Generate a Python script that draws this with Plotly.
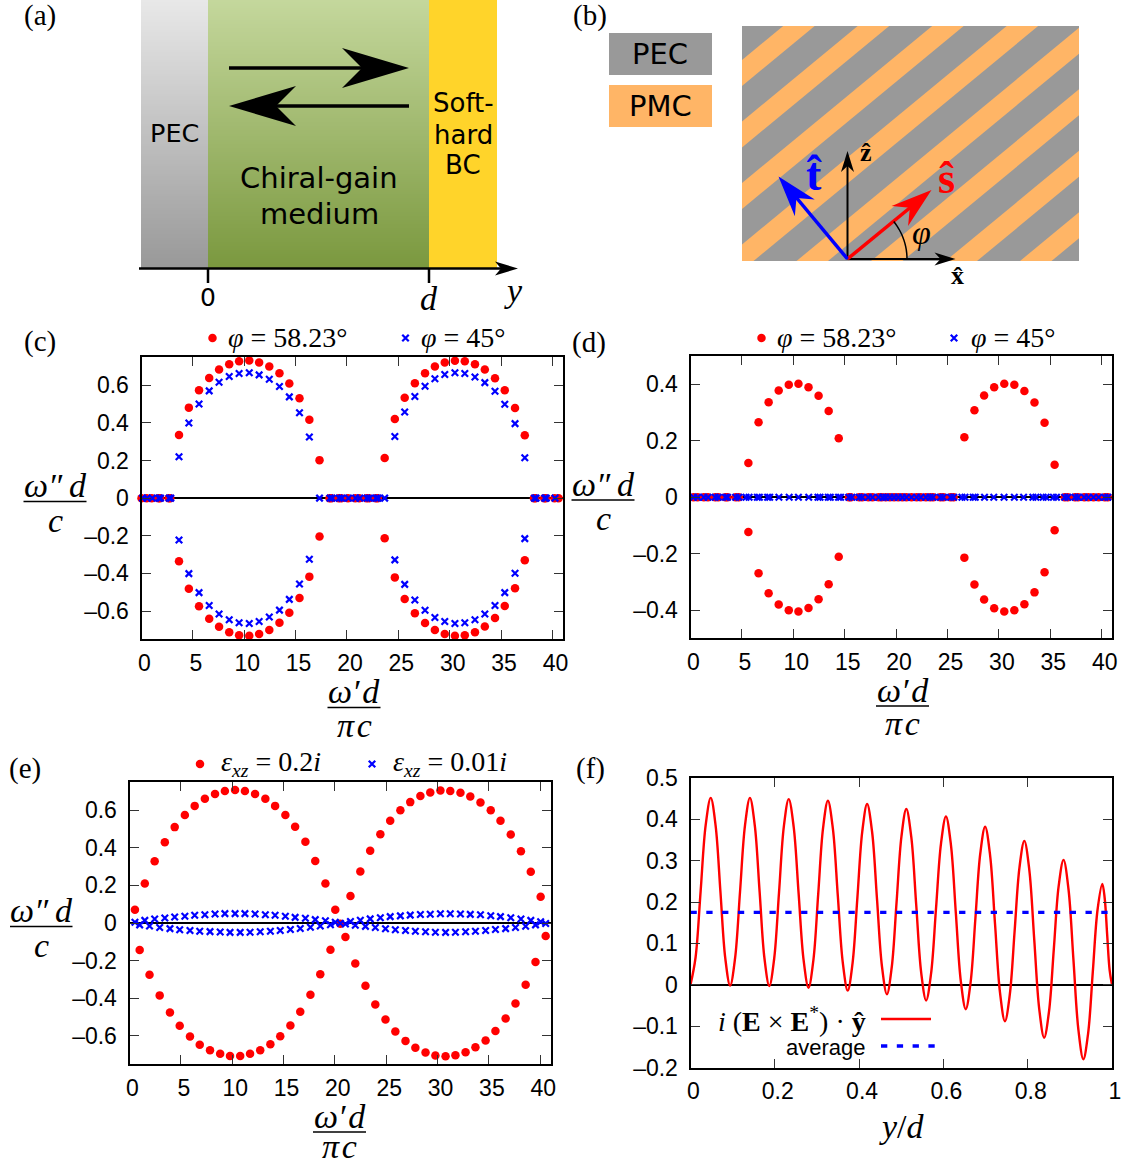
import math
import plotly.graph_objects as go

# ---------- data ----------
c_x = [3.65,4.61,5.60,6.59,7.55,8.54,9.50,10.49,11.45,12.44,13.43,14.39,15.38,16.34,17.33,
       23.67,24.66,25.62,26.61,27.60,28.56,29.52,30.51,31.47,32.46,33.42,34.41,35.36,36.36,37.31]
c_red_up = [.335,.481,.573,.639,.683,.712,.728,.731,.721,.699,.664,.609,.531,.417,.202,
            .213,.421,.534,.611,.664,.699,.721,.730,.728,.712,.683,.637,.573,.479,.334]
c_red_dn = [-.335,-.481,-.575,-.641,-.683,-.712,-.728,-.731,-.722,-.700,-.662,-.609,-.531,-.417,-.204,
            -.213,-.421,-.536,-.611,-.664,-.700,-.722,-.731,-.728,-.712,-.682,-.637,-.573,-.479,-.330]
c_blue_x = [3.65,4.61,5.60,6.59,7.55,8.54,9.50,10.49,11.45,12.44,13.43,14.39,15.38,16.34,
            24.66,25.62,26.61,27.60,28.56,29.52,30.51,31.47,32.46,33.42,34.41,35.36,36.36,37.31]
c_blue_up = [.220,.399,.500,.570,.616,.646,.662,.666,.655,.632,.593,.538,.454,.325,
             .328,.458,.540,.595,.634,.657,.666,.662,.644,.614,.568,.499,.396,.215]
c_blue_dn = [-.222,-.401,-.502,-.570,-.616,-.646,-.662,-.666,-.655,-.632,-.595,-.538,-.456,-.325,
             -.328,-.458,-.541,-.596,-.634,-.655,-.666,-.662,-.646,-.616,-.570,-.502,-.399,-.215]
c_red_zero = [0.0,0.5,1.0,1.65,1.8,2.65,2.8,18.3,18.5,19.2,19.45,20.1,20.8,21.2,21.9,22.15,22.8,23.0,
              38.2,38.35,39.2,39.35,40.2,40.6]
c_blue_zero = [0.1,0.55,1.05,1.7,1.85,2.7,2.85,17.33,18.35,18.55,19.25,19.5,20.15,20.85,21.25,21.95,22.2,
               22.85,23.05,23.67,38.25,38.4,39.25,39.4,40.25]

d_x = [5.63,6.62,7.60,8.58,9.56,10.50,11.48,12.46,13.44,14.42,
       26.64,27.62,28.56,29.54,30.52,31.50,32.48,33.46,34.44,35.42]
d_red_up = [.121,.265,.336,.378,.398,.402,.389,.359,.305,.209,
            .212,.308,.360,.389,.402,.398,.376,.335,.264,.115]
d_red_dn = [-.123,-.269,-.340,-.380,-.400,-.405,-.392,-.361,-.308,-.211,
            -.214,-.309,-.362,-.393,-.405,-.400,-.379,-.337,-.266,-.117]
d_red_zero = [0.3,0.7,1.3,1.7,2.4,2.7,3.4,3.6,4.4,4.7,15.4,15.6,16.4,16.7,17.3,17.7,18.3,18.6,19.0,19.4,
              19.8,20.2,20.6,21.0,21.5,22.0,22.4,22.9,23.3,23.6,24.3,24.6,25.3,25.6,
              36.4,36.7,37.4,37.7,38.3,38.7,39.2,39.7,40.3,40.6]
d_blue_zero = [0.3,0.7,1.3,1.7,2.4,2.7,3.4,3.6,4.4,4.7,5.4,5.7,6.5,6.7,7.5,7.7,8.6,9.6,10.5,11.5,12.4,12.6,
               13.4,13.6,14.4,14.6,15.4,15.7,16.4,16.7,17.3,17.7,18.3,18.7,19.0,19.4,19.8,20.2,20.6,21.0,
               21.5,22.0,22.4,22.9,23.3,23.6,24.3,24.6,25.3,25.6,26.4,26.7,27.5,27.7,28.6,29.5,30.5,31.5,
               32.4,33.3,33.6,34.3,34.6,35.3,35.6,36.4,36.7,37.4,37.7,38.3,38.7,39.2,39.7,40.3,40.6]

e_xa = [.53,1.49,2.45,3.44,4.40,5.39,6.35,7.34,8.33,9.29,10.28,11.24,12.23,13.23,14.18,15.18,16.13,17.13,18.09,19.08,20.04,
        21.03,21.99,22.98,23.94,24.93,25.89,26.88,27.84,28.83,29.79,30.78,31.74,32.73,33.69,34.68,35.64,36.63,37.59,38.58,39.54,40.53]
e_red_a = [.071,.210,.329,.430,.510,.574,.623,.661,.686,.702,.707,.702,.686,.661,.623,.574,.512,.432,.330,.210,.071,
           -.075,-.215,-.334,-.433,-.513,-.577,-.627,-.663,-.689,-.705,-.709,-.703,-.687,-.661,-.625,-.574,-.508,-.428,-.329,-.208,-.069]
e_blue_a = [.004,.014,.021,.027,.032,.036,.041,.044,.048,.050,.050,.050,.048,.044,.041,.036,.030,.025,.018,.012,.004,
            -.005,-.012,-.018,-.024,-.031,-.036,-.040,-.044,-.047,-.049,-.050,-.049,-.047,-.044,-.040,-.035,-.030,-.024,-.017,-.010,-.003]
e_xb = [.99,1.95,2.94,3.94,4.89,5.89,6.84,7.84,8.83,9.79,10.78,11.74,12.73,13.72,14.68,15.67,16.63,17.62,18.58,19.57,20.53,
        21.52,22.48,23.44,24.43,25.39,26.38,27.34,28.33,29.29,30.28,31.24,32.23,33.19,34.18,35.18,36.13,37.13,38.12,39.08,40.04]
e_red_b = [-.144,-.275,-.385,-.476,-.547,-.604,-.647,-.677,-.696,-.707,-.707,-.696,-.677,-.645,-.602,-.545,-.472,-.382,-.272,-.142,-.004,
           .144,.274,.384,.472,.544,.600,.643,.675,.694,.705,.702,.693,.673,.641,.600,.544,.471,.382,.272,.140]
e_blue_b = [-.010,-.016,-.024,-.030,-.036,-.040,-.044,-.046,-.048,-.050,-.050,-.049,-.047,-.044,-.040,-.035,-.029,-.023,-.016,-.009,-.001,
            .008,.015,.022,.028,.034,.038,.042,.045,.047,.049,.049,.048,.046,.044,.039,.034,.028,.021,.014,.007]

f_x = [0,.012,.024,.036,.048,.0595,.071,.0825,.094,.1058,.1175,.1293,.141,.1525,.164,.1755,.187,.1985,.21,.2215,.233,
       .2448,.2565,.2683,.280,.2915,.303,.3145,.326,.3378,.3495,.3613,.373,.3845,.396,.4075,.419,.4308,.4425,.4543,.466,
       .4775,.489,.5005,.512,.5238,.5355,.5473,.559,.5708,.5825,.5943,.606,.6178,.6295,.6413,.653,.6645,.676,.6875,.699,
       .7108,.7225,.7343,.746,.7575,.769,.7805,.792,.8038,.8155,.8273,.839,.8505,.862,.8735,.885,.8968,.9085,.9203,.932,
       .9433,.9545,.9658,.977,.9828,.9885,.9943,1]
f_y = [0,.066,.226,.386,.452,.3855,.225,.0645,-.002,.0645,.225,.3855,.452,.3855,.2245,.0635,-.003,.063,.223,.383,.449,
       .382,.221,.060,-.007,.059,.219,.379,.445,.3775,.2155,.0535,-.014,.0525,.2115,.3705,.437,.370,.207,.044,-.023,
       .043,.201,.359,.425,.3575,.1935,.0295,-.038,.0275,.1845,.3415,.407,.339,.174,.009,-.059,.0055,.1615,.3175,.382,
       .313,.147,-.019,-.088,-.024,.130,.284,.348,.278,.110,-.058,-.128,-.065,.087,.239,.302,.231,.061,-.109,-.18,
       -.118,.032,.182,.244,.208,.122,.036,0]
f_avg_x = [0, 1]
f_avg_y = [.175, .175]

x_ticks_main = [0,5,10,15,20,25,30,35,40]
y_ticks_075 = [-.6,-.4,-.2,0,.2,.4,.6]
y_text_075 = ["–0.6","–0.4","–0.2","0","0.2","0.4","0.6"]
y_ticks_05 = [-.4,-.2,0,.2,.4]
y_text_05 = ["–0.4","–0.2","0","0.2","0.4"]
f_x_ticks = [0,.2,.4,.6,.8,1]
f_x_text = ["0","0.2","0.4","0.6","0.8","1"]
f_y_ticks = [-.2,-.1,0,.1,.2,.3,.4,.5]
f_y_text = ["–0.2","–0.1","0","0.1","0.2","0.3","0.4","0.5"]

# ---------- page geometry ----------
W, H = 1123, 1166
RED, BLUE = "#ff0000", "#0000ff"
SERIF = "Liberation Serif"
SANS = "Liberation Sans"
DIAG = "DejaVu Sans"
boxes = {"c": (141.5, 562.7, 357, 639.3), "d": (690.5, 1112, 356, 638.4),
         "e": (129.5, 550.5, 782, 1064), "f": (690.5, 1112, 778, 1067.5)}

fig = go.Figure()
shapes, notes = [], []

def axes(idx, box, xvals, xtext, xrange, yvals, ytext, yrange):
    l, r, t, b = box
    common = dict(showline=True, linecolor="black", linewidth=2, mirror="ticks", ticks="inside",
                  ticklen=9, tickwidth=1, tickcolor="#333333", showgrid=False, tickmode="array",
                  tickfont=dict(family=SANS, size=23, color="black"))
    fig.layout[f"xaxis{idx}"] = dict(common, domain=[l/W, r/W], range=xrange, tickvals=xvals, ticktext=xtext,
                                     anchor=f"y{idx}", zeroline=False, ticklabelshift=3, ticklabelstandoff=2)
    fig.layout[f"yaxis{idx}"] = dict(common, domain=[1-b/H, 1-t/H], range=yrange, tickvals=yvals, ticktext=ytext,
                                     anchor=f"x{idx}", zeroline=True, zerolinecolor="black", zerolinewidth=1.5,
                                     ticklabelstandoff=6)

def dots(idx, x, y, color=RED):
    fig.add_trace(go.Scatter(x=x, y=y, xaxis=f"x{idx}", yaxis=f"y{idx}", mode="markers", showlegend=False,
                             cliponaxis=False, marker=dict(symbol="circle", size=8.5, color=color)))

def crosses(idx, x, y, color=BLUE):
    fig.add_trace(go.Scatter(x=x, y=y, xaxis=f"x{idx}", yaxis=f"y{idx}", mode="markers", showlegend=False,
                             cliponaxis=False, marker=dict(symbol="x-thin", size=6.5, color=color,
                                                           line=dict(width=2.2, color=color))))

main_text = [str(v) for v in x_ticks_main]
axes(1, boxes["c"], x_ticks_main, main_text, [0, 41], y_ticks_075, y_text_075, [-.75, .75])
axes(2, boxes["d"], x_ticks_main, main_text, [0, 41], y_ticks_05, y_text_05, [-.5, .5])
axes(3, boxes["e"], x_ticks_main, main_text, [0, 41], y_ticks_075, y_text_075, [-.75, .75])
axes(4, boxes["f"], f_x_ticks, f_x_text, [0, 1], f_y_ticks, f_y_text, [-.2, .5])

# panel c
dots(1, c_x, c_red_up); dots(1, c_x, c_red_dn); dots(1, c_red_zero, [0]*len(c_red_zero))
crosses(1, c_blue_x, c_blue_up); crosses(1, c_blue_x, c_blue_dn); crosses(1, c_blue_zero, [0]*len(c_blue_zero))
# panel d
dots(2, d_x, d_red_up); dots(2, d_x, d_red_dn); dots(2, d_red_zero, [0]*len(d_red_zero))
crosses(2, d_blue_zero, [0]*len(d_blue_zero))
# panel e
dots(3, e_xa, e_red_a); dots(3, e_xb, e_red_b)
crosses(3, e_xa, e_blue_a); crosses(3, e_xb, e_blue_b)
# panel f
fig.add_trace(go.Scatter(x=f_x, y=f_y, xaxis="x4", yaxis="y4", mode="lines", showlegend=False,
                         line=dict(color=RED, width=2.4, shape="spline", smoothing=1.0)))
fig.add_trace(go.Scatter(x=f_avg_x, y=f_avg_y, xaxis="x4", yaxis="y4", mode="lines", showlegend=False,
                         line=dict(color=BLUE, width=3.4, dash="6.3px,9.5px")))

# ---------- overlay in page pixels, for diagrams and hand-placed keys ----------
fig.layout["xaxis5"] = dict(domain=[0, 1], range=[0, W], visible=False, anchor="y5", fixedrange=True)
fig.layout["yaxis5"] = dict(domain=[0, 1], range=[H, 0], visible=False, anchor="x5", fixedrange=True)
# clipped axis for the stripes of panel b
bl, br, bt, bb = 742, 1079, 26, 261
fig.layout["xaxis6"] = dict(domain=[bl/W, br/W], range=[bl, br], visible=False, anchor="y6", fixedrange=True)
fig.layout["yaxis6"] = dict(domain=[1-bb/H, 1-bt/H], range=[bb, bt], visible=False, anchor="x6", fixedrange=True)
fig.add_trace(go.Scatter(x=[bl, br], y=[bt, bb], xaxis="x6", yaxis="y6", mode="markers",
                         marker=dict(opacity=0), hoverinfo="skip", showlegend=False))

def text(x, y, s, size, family=SERIF, color="black", xanchor="center"):
    notes.append(dict(x=x, y=y, xref="x5", yref="y5", text=s, showarrow=False, xanchor=xanchor, yanchor="middle",
                      font=dict(family=family, size=size, color=color), borderpad=0))

def rect(x0, y0, x1, y1, color, xref="x5", yref="y5"):
    shapes.append(dict(type="rect", x0=x0, y0=y0, x1=x1, y1=y1, xref=xref, yref=yref,
                       fillcolor=color, line=dict(width=0), layer="above"))

def seg(x0, y0, x1, y1, color="black", width=2):
    shapes.append(dict(type="line", x0=x0, y0=y0, x1=x1, y1=y1, xref="x5", yref="y5",
                       line=dict(color=color, width=width), layer="above"))

def poly(points, color, xref="x5", yref="y5"):
    path = "M " + " L ".join(f"{px:.2f},{py:.2f}" for px, py in points) + " Z"
    shapes.append(dict(type="path", path=path, xref=xref, yref=yref, fillcolor=color,
                       line=dict(width=0), layer="above"))

def head(tipx, tipy, tailx, taily, length, half, notch, color="black"):
    a = math.atan2(taily-tipy, tailx-tipx)
    ux, uy = math.cos(a), math.sin(a)
    nx, ny = -uy, ux
    poly([(tipx, tipy),
          (tipx+ux*length+nx*half, tipy+uy*length+ny*half),
          (tipx+ux*notch, tipy+uy*notch),
          (tipx+ux*length-nx*half, tipy+uy*length-ny*half)], color)

def lerp(c0, c1, t):
    return "rgb(" + ",".join(str(round(a+(b-a)*t)) for a, b in zip(c0, c1)) + ")"

# panel a gradients
TOP = 0; BOT = 268
for yy in range(TOP, BOT, 2):
    t = (yy-TOP)/(BOT-TOP)
    rect(141, yy, 208, yy+2, lerp((232,232,232), (152,152,152), t))
    rect(208, yy, 429, yy+2, lerp((196,215,156), (122,152,62), t))
rect(429, TOP, 497, BOT, "#ffd42a")
seg(139, 268.5, 507, 268.5, width=2.5)
head(518, 268.5, 139, 268.5, 23, 7, 17)
seg(208, 268, 208, 283, width=2.5); seg(429, 268, 429, 283, width=2.5)
text(208, 297, "0", 25, family=DIAG)
text(429, 298, "<i>d</i>", 34)
text(513, 290, "<i>y</i>", 34)
seg(229, 68, 372, 68, width=3.5); head(409, 68, 229, 68, 67, 20, 47)
seg(409, 106, 266, 106, width=3.5); head(229, 106, 409, 106, 67, 20, 47)
text(174, 133, "PEC", 25.5, family=DIAG)
text(319, 178, "Chiral-gain", 29, family=DIAG)
text(319, 214, "medium", 29, family=DIAG)
text(463, 103, "Soft-", 26, family=DIAG)
text(463, 135, "hard", 26, family=DIAG)
text(463, 165, "BC", 26, family=DIAG)

# panel b
rect(609, 33, 712, 75, "#999999")
rect(609, 85, 712, 127, "#ffb566")
text(660, 54, "PEC", 29, family=DIAG)
text(660, 106, "PMC", 29, family=DIAG)
rect(bl, bt, br, bb, "#999999", "x6", "y6")
slope = 61.5/74.5
for k in range(-3, 8):
    up = 60 + 61.5*k
    dn = up + 26
    poly([(bl-5, up+5*slope), (br+5, up-(br+5-bl)*slope), (br+5, dn-(br+5-bl)*slope), (bl-5, dn+5*slope)],
         "#ffb566", "x6", "y6")
ox, oy = 847.5, 259
seg(ox, oy, 945, oy); head(955.5, oy, ox, oy, 21, 6.5, 15)
seg(ox, oy, ox, 162); head(ox, 151, ox, oy, 21, 6.5, 15)
seg(ox, oy, 917, 202, RED, 3.5); head(931.5, 190, ox, oy, 41, 13, 28, RED)
seg(ox, oy, 790, 190, BLUE, 3.5); head(778.5, 176.5, ox, oy, 41, 13, 28, BLUE)
arc = [(ox+59.5*math.cos(math.radians(a)), oy-59.5*math.sin(math.radians(a))) for a in range(0, 40, 3)]
shapes.append(dict(type="path", path="M " + " L ".join(f"{px:.2f},{py:.2f}" for px, py in arc), xref="x5", yref="y5",
                   line=dict(color="black", width=1.5), layer="above"))
text(946, 178, "<b>s\u0302</b>", 44, color=RED)
text(814, 174, "<b>t\u0302</b>", 46, color=BLUE)
text(866, 152, "<b>z\u0302</b>", 26)
text(957, 275, "<b>x\u0302</b>", 26)
text(921, 232, "<i>\u03c6</i>", 34)

# panel letters
for x, y, s in [(40,15,"(a)"),(590,15,"(b)"),(40,341,"(c)"),(589,342,"(d)"),(25,768,"(e)"),(590,768,"(f)")]:
    text(x, y, s, 29)

# fractions
def frac(x0, x1, liney, numy, deny, num, den):
    seg(x0, liney, x1, liney, width=1.5)
    text((x0+x1)/2, numy, num, 34)
    text((x0+x1)/2, deny, den, 34)

YN, YD = "<i>\u03c9\u2033\u2009d</i>", "<i>c</i>"
XN, XD = "<i>\u03c9\u2032\u200ad</i>", "<i>\u03c0\u200ac</i>"
frac(23.5, 86.5, 501.5, 485, 520, YN, YD)
frac(327.5, 380.5, 707.5, 691, 725, XN, XD)
frac(571.5, 634.5, 500, 484, 518, YN, YD)
frac(876, 929, 706, 690, 723, XN, XD)
frac(10, 72.5, 926.5, 910, 945, YN, YD)
frac(313, 366, 1132, 1116, 1146.5, XN, XD)
text(902, 1126, "<i>y</i>/<i>d</i>", 34)

# hand-placed keys
def key_dot(x, y):
    fig.add_trace(go.Scatter(x=[x], y=[y], xaxis="x5", yaxis="y5", mode="markers", showlegend=False,
                             marker=dict(symbol="circle", size=8.5, color=RED)))
def key_cross(x, y):
    fig.add_trace(go.Scatter(x=[x], y=[y], xaxis="x5", yaxis="y5", mode="markers", showlegend=False,
                             marker=dict(symbol="x-thin", size=6.5, color=BLUE, line=dict(width=2.2, color=BLUE))))

PHI1 = "<i>\u03c6</i> = 58.23\u00b0"
PHI2 = "<i>\u03c6</i> = 45\u00b0"
key_dot(212.5, 338); text(288, 337, PHI1, 28)
key_cross(405.5, 338); text(463.5, 337, PHI2, 28)
key_dot(761.5, 338); text(837, 337, PHI1, 28)
key_cross(954, 338); text(1013, 337, PHI2, 28)
key_dot(200, 764); text(271, 763, "<i>\u03b5<sub>xz</sub></i> = 0.2<i>i</i>", 28)
key_cross(372, 764); text(449.5, 763, "<i>\u03b5<sub>xz</sub></i> = 0.01<i>i</i>", 28)
text(867, 1019, "<i>i</i> (<b>E</b> × <b>E</b><sup>*</sup>) · <b>y\u0302</b>", 28, xanchor="right")
text(867, 1047, "average", 22, family=SANS, xanchor="right")
fig.add_trace(go.Scatter(x=[881, 931], y=[1019, 1019], xaxis="x5", yaxis="y5", mode="lines", showlegend=False,
                         line=dict(color=RED, width=2.4)))
fig.add_trace(go.Scatter(x=[881, 936], y=[1046, 1046], xaxis="x5", yaxis="y5", mode="lines", showlegend=False,
                         line=dict(color=BLUE, width=3.4, dash="6.3px,9.5px")))

fig.update_layout(width=W, height=H, margin=dict(l=0, r=0, t=0, b=0, autoexpand=False), autosize=False,
                  paper_bgcolor="white", plot_bgcolor="rgba(0,0,0,0)", showlegend=False,
                  shapes=shapes, annotations=notes, hovermode=False)

fig.write_html("out.html", config=dict(displayModeBar=False),
               post_script='document.body.style.margin="0";document.body.style.overflow="hidden";')
